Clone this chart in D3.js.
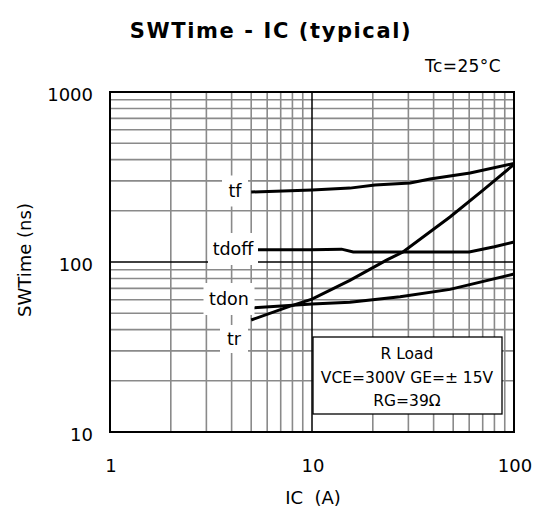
<!DOCTYPE html>
<html>
<head>
<meta charset="utf-8">
<script src="https://cdn.jsdelivr.net/npm/d3@7"></script>
<style>
  body { margin: 0; background: #fff; }
  text { font-family: "DejaVu Sans", sans-serif; fill: #000; }
</style>
</head>
<body>
<div id="chart"></div>
<script>
// courbes (IC en A, temps en ns)
const icTf = [5, 10, 15.4, 20.5, 30.6, 38.4, 60.6, 100];
const tfVals = [258, 265, 272, 284, 292, 308, 334, 380];

const icTdoff = [5, 10, 14, 16, 30, 60, 80, 100];
const tdoffVals = [118, 118, 119, 114.5, 114.5, 114.5, 123, 131];

const icTdon = [5, 10, 15.4, 27.3, 48.2, 100];
const tdonVals = [53.6, 56.6, 58, 62.5, 69, 85];

const icTr = [5, 7.8, 10, 15.4, 23.5, 28.2, 48.2, 70.3, 100];
const trVals = [45.6, 55, 60.5, 78, 103, 114.5, 184, 265, 375];

const xTicks = [1, 10, 100];
const yTicks = [10, 100, 1000];

const curveLabels = ["tf", "tdoff", "tdon", "tr"];
const legendLines = ["R Load", "VCE=300V GE=± 15V", "RG=39Ω"];

const W = 542, H = 513;
const margin = { top: 92, right: 28, bottom: 81, left: 110 };
const width = W - margin.left - margin.right,
      height = H - margin.top - margin.bottom;

const svg = d3.select("#chart").append("svg")
    .attr("width", W)
    .attr("height", H);

const g = svg.append("g")
    .attr("transform", `translate(${margin.left},${margin.top})`);

const x = d3.scaleLog().domain([1, 100]).range([0, width]);
const y = d3.scaleLog().domain([10, 1000]).range([height, 0]);

// grille mineure
const minorX = [], minorY = [];
[1, 10].forEach(d => { for (let k = 2; k <= 9; k++) minorX.push(d * k); });
[10, 100].forEach(d => { for (let k = 2; k <= 9; k++) minorY.push(d * k); });

g.selectAll(".gx").data(minorX).enter().append("line")
    .attr("x1", d => x(d)).attr("x2", d => x(d))
    .attr("y1", 0).attr("y2", height)
    .attr("stroke", "#8a8a8a").attr("stroke-width", 1.6);

g.selectAll(".gy").data(minorY).enter().append("line")
    .attr("x1", 0).attr("x2", width)
    .attr("y1", d => y(d)).attr("y2", d => y(d))
    .attr("stroke", "#8a8a8a").attr("stroke-width", 1.6);

// grille majeure
g.append("line")
    .attr("x1", x(10)).attr("x2", x(10)).attr("y1", 0).attr("y2", height)
    .attr("stroke", "#000").attr("stroke-width", 1.5);
g.append("line")
    .attr("x1", 0).attr("x2", width).attr("y1", y(100)).attr("y2", y(100))
    .attr("stroke", "#000").attr("stroke-width", 1.5);

// courbes
const line = d3.line().x(d => x(d[0])).y(d => y(d[1]));
const series = [
    d3.zip(icTf, tfVals),
    d3.zip(icTdoff, tdoffVals),
    d3.zip(icTdon, tdonVals),
    d3.zip(icTr, trVals)
];
g.selectAll(".curve").data(series).enter().append("path")
    .attr("d", line)
    .attr("fill", "none")
    .attr("stroke", "#000")
    .attr("stroke-width", 3);

// étiquettes des courbes avec fond blanc
const labelPos = [
    { cx: 235, cy: 191, w: 26, h: 31 },
    { cx: 233, cy: 249, w: 50, h: 32 },
    { cx: 229, cy: 299, w: 51, h: 32 },
    { cx: 234, cy: 339, w: 28, h: 28 }
];
curveLabels.forEach((t, i) => {
    const p = labelPos[i];
    svg.append("rect")
        .attr("x", p.cx - p.w / 2).attr("y", p.cy - p.h / 2)
        .attr("width", p.w).attr("height", p.h)
        .attr("fill", "#fff");
    svg.append("text")
        .attr("x", p.cx).attr("y", p.cy)
        .attr("dy", "0.35em")
        .attr("text-anchor", "middle")
        .attr("font-size", 17.5)
        .text(t);
});

// légende
svg.append("rect")
    .attr("x", 313).attr("y", 337)
    .attr("width", 189).attr("height", 77)
    .attr("fill", "#fff")
    .attr("stroke", "#000").attr("stroke-width", 1.3);
legendLines.forEach((t, i) => {
    svg.append("text")
        .attr("x", 407).attr("y", 354 + i * 23.5)
        .attr("dy", "0.35em")
        .attr("text-anchor", "middle")
        .attr("font-size", 15.5)
        .text(t);
});

// cadre
g.append("rect")
    .attr("width", width).attr("height", height)
    .attr("fill", "none")
    .attr("stroke", "#000").attr("stroke-width", 2);

// axes (labels seulement)
g.selectAll(".xl").data(xTicks).enter().append("text")
    .attr("x", d => x(d) + 1).attr("y", height + 40)
    .attr("text-anchor", "middle")
    .attr("font-size", 18)
    .text(d => d);

g.selectAll(".yl").data(yTicks).enter().append("text")
    .attr("x", -17).attr("y", d => y(d) + 9)
    .attr("text-anchor", "end")
    .attr("font-size", 18)
    .text(d => d);

// titres
svg.append("text")
    .attr("x", 271).attr("y", 38)
    .attr("text-anchor", "middle")
    .attr("font-size", 21)
    .attr("font-weight", "bold")
    .attr("letter-spacing", 1.6)
    .text("SWTime - IC (typical)");

svg.append("text")
    .attr("x", 501).attr("y", 72)
    .attr("text-anchor", "end")
    .attr("font-size", 17)
    .attr("letter-spacing", 0.4)
    .text("Tc=25°C");

svg.append("text")
    .attr("x", 313).attr("y", 504)
    .attr("text-anchor", "middle")
    .attr("font-size", 18)
    .attr("xml:space", "preserve")
    .text("IC  (A)");

svg.append("text")
    .attr("transform", "translate(31,260) rotate(-90)")
    .attr("text-anchor", "middle")
    .attr("font-size", 18)
    .text("SWTime (ns)");
</script>
</body>
</html>
